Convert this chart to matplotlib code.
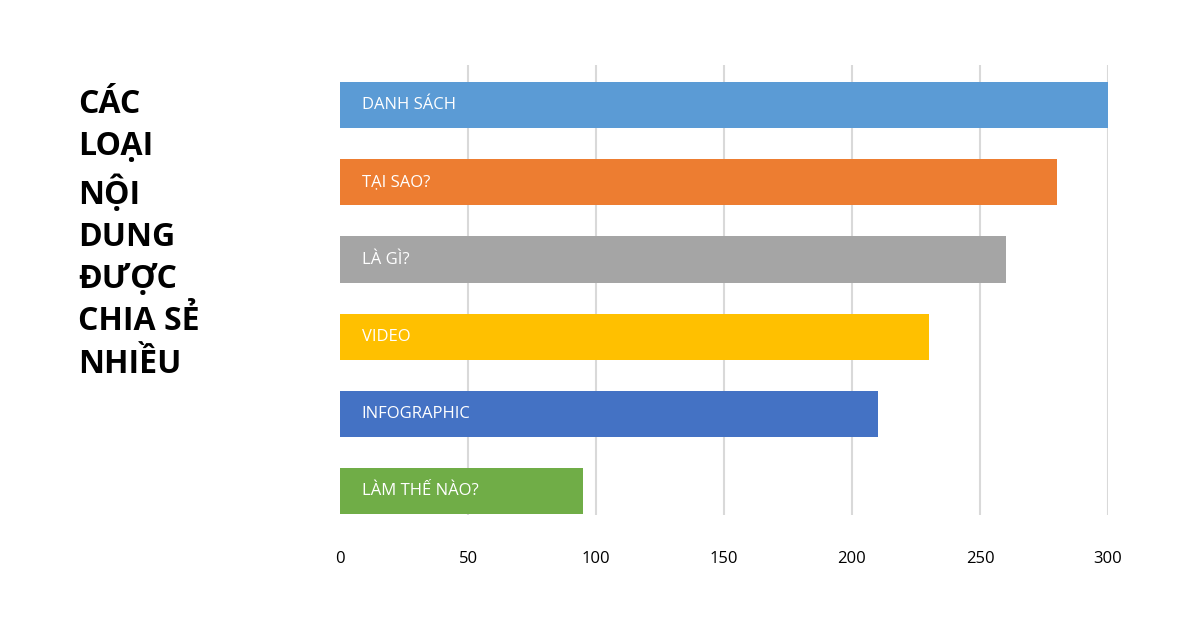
import matplotlib.pyplot as plt

plt.rcParams['font.family'] = ['Open Sans', 'DejaVu Sans']

categories = ['DANH SÁCH', 'TẠI SAO?', 'LÀ GÌ?', 'VIDEO', 'INFOGRAPHIC', 'LÀM THẾ NÀO?']
values = [300, 280, 260, 230, 210, 95]
colors = ['#5B9BD5', '#ED7D31', '#A5A5A5', '#FFC000', '#4472C4', '#70AD47']
ticks = [0, 50, 100, 150, 200, 250, 300]
title = 'CÁC\nLOẠI\nNỘI\nDUNG\nĐƯỢC\nCHIA SẺ\nNHIỀU'

fig = plt.figure(figsize=(12, 6.28), dpi=100)
ax = fig.add_axes([340 / 1200, 113 / 628, 768 / 1200, 450 / 628])

pos = list(range(len(categories)))
ax.barh(pos, values, height=0.6, color=colors, zorder=3)
for p, name in zip(pos, categories):
    ax.text(8.5, p, name, color='white', fontsize=12, va='center', ha='left', zorder=4)

ax.set_xlim(0, 300)
ax.set_ylim(5.31, -0.52)
ax.set_xticks(ticks)
ax.set_xticklabels([str(t) for t in ticks], fontsize=12)
ax.set_yticks([])
ax.grid(axis='x', color='#d9d9d9', linewidth=1.5, zorder=0)
ax.xaxis.get_gridlines()[0].set_visible(False)  # no line at zero
ax.tick_params(axis='x', length=0, pad=26)
for s in ax.spines.values():
    s.set_visible(False)

fig.text(78 / 1200, 1 - 88 / 628, title, fontsize=23, fontweight='bold',
         va='top', ha='left', linespacing=1.37)

fig.savefig('out.png', dpi=100)
